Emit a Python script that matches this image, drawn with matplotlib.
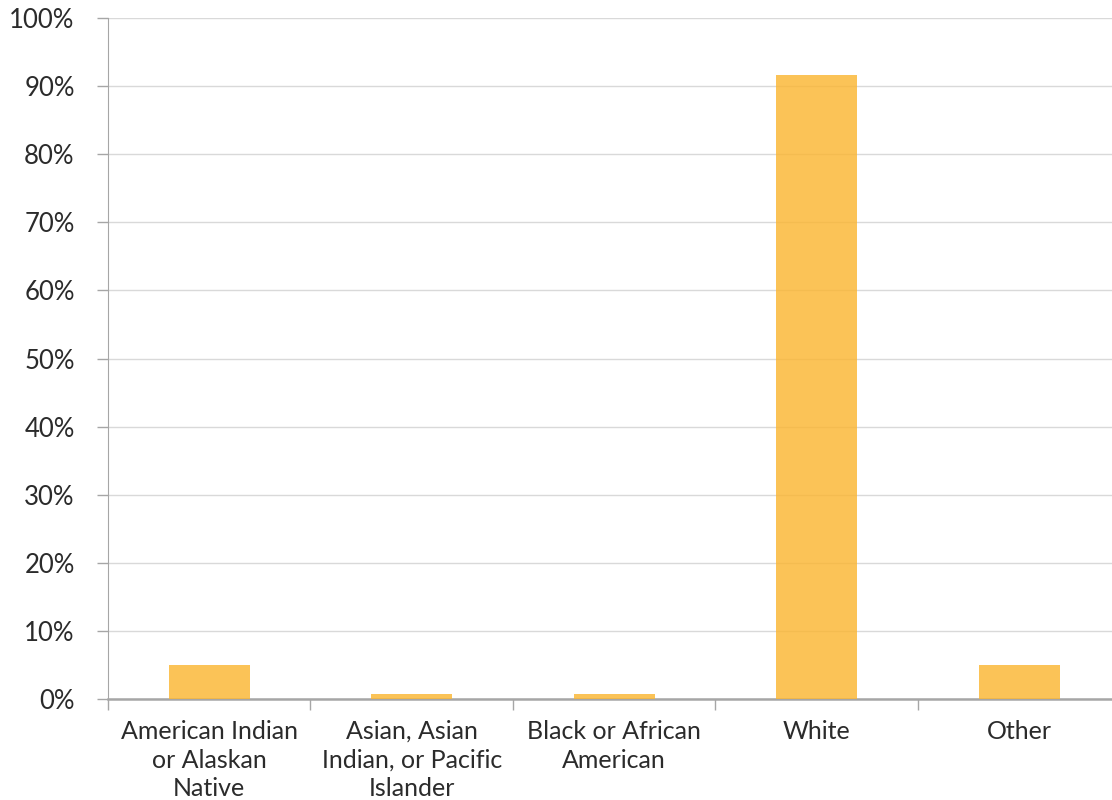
import matplotlib
matplotlib.use("Agg")
import matplotlib.pyplot as plt
from matplotlib.ticker import FuncFormatter, FixedLocator

plt.rcParams['font.family'] = ['Lato', 'DejaVu Sans']

# Data
categories = ["American Indian\nor Alaskan\nNative",
              "Asian, Asian\nIndian, or Pacific\nIslander",
              "Black or African\nAmerican",
              "White",
              "Other"]
shares = [5.0, 0.7, 0.7, 91.7, 5.0]

fig = plt.figure(figsize=(11.12, 8), dpi=100)
ax = fig.add_axes([0.0971, 0.12625, 0.9105, 0.85125])

x = range(len(categories))
ax.bar(x, shares, width=0.4, color='#FBB632', alpha=0.82, zorder=3)

ax.set_xlim(-0.5, len(categories) - 0.5)
ax.set_ylim(0, 100)
ax.set_yticks(range(0, 101, 10))
ax.yaxis.set_major_formatter(FuncFormatter(lambda v, p: f"{v:.0f}%"))
ax.grid(axis='y', color='#d9d9d9', linewidth=1, zorder=0)

ax.set_xticks(list(x))
ax.set_xticklabels(categories, linespacing=1.3)
ax.xaxis.set_minor_locator(FixedLocator([i - 0.5 for i in range(len(categories) + 1)]))
ax.tick_params(axis='x', which='major', length=0, pad=15, labelsize=18, labelcolor='#2b2b2b')
ax.tick_params(axis='x', which='minor', length=8, color='#a6a6a6', width=1)
ax.tick_params(axis='y', length=8, color='#a6a6a6', width=1, pad=16, labelsize=18.5, labelcolor='#2b2b2b')

for s in ['top', 'right']:
    ax.spines[s].set_visible(False)
ax.spines['left'].set_color('#a6a6a6')
ax.spines['bottom'].set_color('#a6a6a6')
ax.spines['bottom'].set_linewidth(1.8)

fig.savefig("out.png", dpi=100)
